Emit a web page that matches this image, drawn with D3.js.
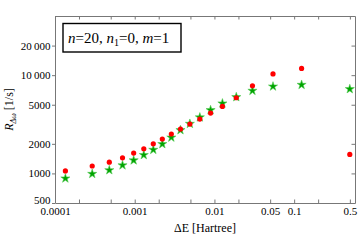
<!DOCTYPE html>
<html lang="en">
    <head>
        <meta charset="utf-8">
        <title>Rate vs energy gap</title>
        <script type="text/javascript" src="https://d3js.org/d3.v7.min.js"></script>
        <style type="text/css">
            body { margin: 0; background: #fff; }
            text { font-family: "Liberation Serif", "Times New Roman", serif; fill: #000; }
            .axis path { stroke: #777; }
            .axis line { stroke: #777; }
            .axis text { font-size: 11px; }
        </style>
    </head>
    <body>
        <div id="chart"></div>
        <script type="text/javascript">
            // values
            const deltaE = [0.000135, 0.000293, 0.00048, 0.000703, 0.00097, 0.0013, 0.00171, 0.00222, 0.00288, 0.00375,
                            0.00492, 0.00656, 0.00895, 0.0126, 0.0188, 0.030, 0.0543, 0.124, 0.499];
            const rateRed = [1060, 1190, 1300, 1440, 1610, 1780, 2000, 2240, 2520, 2830,
                             3180, 3570, 4110, 4810, 5890, 7800, 10300, 11700, 1560];
            const rateGreen = [890, 990, 1080, 1210, 1360, 1540, 1740, 1990, 2320, 2760,
                               3200, 3720, 4410, 5160, 5980, 6940, 7670, 7980, 7220];
            const xTicksLabeled = [0.0001, 0.001, 0.01, 0.05, 0.1, 0.5];
            const xTicksMinor = [0.0002, 0.0005, 0.002, 0.005, 0.02, 0.2];
            const yTicks = [500, 1000, 2000, 5000, 10000, 20000];

            const W = 361, H = 241;
            const margin = {top: 16, right: 6, bottom: 38, left: 55};
            const width = W - margin.left - margin.right;
            const height = H - margin.top - margin.bottom;

            let xScale = d3.scaleLog().domain([0.0001, 0.58]).range([0, width]);
            let yScale = d3.scaleLog().domain([500, 40000]).range([height, 0]);

            const xAll = xTicksLabeled.concat(xTicksMinor).sort((a, b) => a - b);
            const fmtX = d => xTicksLabeled.includes(d) ? String(d) : "";
            const fmtY = d => d >= 10000
                ? Math.floor(d / 1000) + "\u2009" + String(d % 1000).padStart(3, "0")
                : String(d);

            const svg = d3.select("#chart").append("svg")
                .attr("width", W)
                .attr("height", H);

            const g = svg.append("g")
                .attr("transform", "translate(" + margin.left + "," + margin.top + ")");

            // frame axes
            g.append("g").attr("class", "axis")
                .attr("transform", "translate(0," + height + ")")
                .call(d3.axisBottom(xScale).tickValues(xAll).tickFormat(fmtX).tickSizeInner(-3.5).tickSizeOuter(0).tickPadding(4));
            g.append("g").attr("class", "axis")
                .call(d3.axisTop(xScale).tickValues(xAll).tickFormat("").tickSizeInner(-3.5).tickSizeOuter(0));
            const yAxisG = g.append("g").attr("class", "axis")
                .call(d3.axisLeft(yScale).tickValues(yTicks).tickFormat(fmtY).tickSizeInner(3).tickSizeOuter(0).tickPadding(1.5));
            // lowest label sits just above the corner so it clears 0.0001
            yAxisG.selectAll(".tick text").filter(d => d === 500).attr("dy", "0.05em");
            g.append("g").attr("class", "axis")
                .attr("transform", "translate(" + width + ",0)")
                .call(d3.axisRight(yScale).tickValues(yTicks).tickFormat("").tickSizeInner(-3.5).tickSizeOuter(0));

            // green stars first, red dots on top
            const star = d3.symbol().type(d3.symbolStar).size(26);
            g.append("g").selectAll("path")
                .data(deltaE.map((x, i) => [x, rateGreen[i]]))
                .enter().append("path")
                .attr("d", star)
                .attr("transform", d => "translate(" + xScale(d[0]) + "," + yScale(d[1]) + ")")
                .style("fill", "#00a300")
                .style("stroke", "#55cc55")
                .style("stroke-width", 0.6);

            g.append("g").selectAll("circle")
                .data(deltaE.map((x, i) => [x, rateRed[i]]))
                .enter().append("circle")
                .attr("cx", d => xScale(d[0]))
                .attr("cy", d => yScale(d[1]))
                .attr("r", 2.6)
                .style("fill", "#ff0000");

            // label box
            svg.append("rect")
                .attr("x", 63).attr("y", 23.5)
                .attr("width", 118).attr("height", 28.5)
                .style("fill", "#fff").style("stroke", "#000").style("stroke-width", 1.4);
            const lab = svg.append("text").attr("x", 68).attr("y", 42.5).style("font-size", "15px");
            lab.append("tspan").style("font-style", "italic").text("n");
            lab.append("tspan").text("=20, ");
            lab.append("tspan").style("font-style", "italic").text("n");
            lab.append("tspan").attr("dy", 3).style("font-size", "10px").text("1");
            lab.append("tspan").attr("dy", -3).text("=0, ");
            lab.append("tspan").style("font-style", "italic").text("m");
            lab.append("tspan").text("=1");

            // axis titles
            svg.append("text")
                .attr("x", margin.left + width / 2).attr("y", 232)
                .attr("text-anchor", "middle")
                .style("font-size", "12px")
                .text("\u0394E [Hartree]");

            const yl = svg.append("text")
                .attr("transform", "translate(13," + (margin.top + height / 2) + ") rotate(-90)")
                .attr("text-anchor", "middle")
                .style("font-size", "12px");
            yl.append("tspan").style("font-style", "italic").text("R");
            yl.append("tspan").attr("dy", 2.5).style("font-size", "8px").style("font-style", "italic").text("\u0394\u03c9");
            yl.append("tspan").attr("dy", -2.5).text(" [1/s]");
        </script>
    </body>
</html>
